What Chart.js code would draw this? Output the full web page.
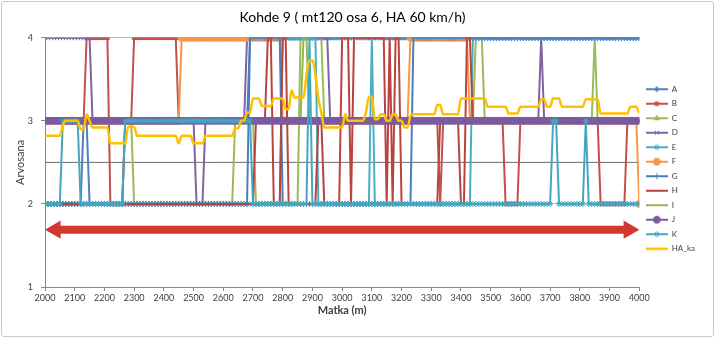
<!DOCTYPE html>
<html>
<head>
<meta charset="utf-8">
<script src="https://cdn.jsdelivr.net/npm/chart.js@4.4.1/dist/chart.umd.min.js"></script>
<style>
  html, body { margin: 0; padding: 0; background: #fff; }
  #wrap { position: relative; width: 715px; height: 338px; }
  #frame { position: absolute; left: 1px; top: 1px; width: 711px; height: 334px; border: 1px solid #c9c9c9; border-radius: 3px; pointer-events: none; }
</style>
</head>
<body>
<div id="wrap"><canvas id="kohde" width="715" height="338"></canvas><div id="frame"></div></div>
<script>
/* --------------- Distance axis (m), one reading every 10 m --------------------- */
const distance = [];
for (let x = 2000; x <= 4000; x += 10) distance.push(x);

/* --------------- Ratings per evaluator, as [from metre, grade] runs --------------------- */
const runsA = [[2000, 2], [2130, 3], [2150, 2], [2270, 3], [2690, 4]];
const runsB = [[2000, 3], [2140, 4], [2220, 2], [2270, 3], [2300, 4], [2450, 3], [3330, 2], [3340, 3], [3550, 2], [3600, 3], [3870, 2], [3960, 3]];
const runsC = [[2000, 3], [2300, 2], [2640, 3], [2710, 2], [2860, 4], [2940, 3], [3450, 4], [3480, 3], [3850, 4], [3860, 3]];
const runsD = [[2000, 4], [2160, 3], [2510, 2], [2540, 3], [2680, 4], [2960, 3], [3670, 4], [3680, 3]];
const runsE = [[2000, 2], [2800, 4], [2920, 2], [3100, 4], [3110, 2], [3440, 4]];
const runsF = [[2000, 3], [2460, 4], [2800, 3], [3230, 4], [3430, 3], [4000, 2]];
const runsG = [[2000, 2], [2690, 4], [2800, 2], [3240, 4]];
const runsH = [[2000, 2], [2710, 3], [2750, 4], [2770, 2], [2800, 4], [2820, 2], [2920, 3], [2940, 2], [3000, 4], [3030, 2], [3040, 4], [3150, 2], [3160, 4], [3170, 2], [3180, 4], [3200, 2], [3330, 3], [3400, 2], [3420, 4], [3440, 3]];
const runsI = [[2000, 3], [2870, 4], [2890, 3]];
const runsJ = [[2000, 3]];
const runsK = [[2000, 2], [2060, 3], [2120, 2], [2270, 3], [2700, 2], [2890, 4], [2900, 2], [3710, 3], [3730, 2], [3820, 3], [3830, 2]];

/* --------------- HA_ka mean grade --------------------- */
const runsHA = [
  [2000, 2.82], [2060, 2.95], [2070, 3.0], [2120, 2.9], [2140, 3.08], [2150, 3.0], [2160, 2.92],
  [2220, 2.73], [2280, 2.93], [2310, 2.82], [2450, 2.73], [2460, 2.82], [2500, 2.73], [2540, 2.82],
  [2640, 2.91], [2660, 3.0], [2680, 3.1], [2700, 3.27], [2730, 3.18], [2770, 3.27], [2810, 3.14],
  [2830, 3.37], [2840, 3.28], [2880, 3.55], [2890, 3.73], [2910, 3.55], [2920, 3.27], [2930, 3.1],
  [2940, 2.92], [3010, 3.08], [3020, 3.0], [3080, 3.1], [3090, 3.29], [3110, 3.02], [3130, 3.08],
  [3150, 3.0], [3170, 3.08], [3190, 3.0], [3210, 2.92], [3230, 3.06], [3240, 3.08], [3320, 3.19],
  [3340, 3.08], [3400, 3.27], [3490, 3.17], [3560, 3.09], [3600, 3.17], [3670, 3.26], [3690, 3.17],
  [3710, 3.27], [3740, 3.17], [3820, 3.26], [3870, 3.09], [3970, 3.17], [4000, 3.09]
];

/* --------------- Reference line and section arrow --------------------- */
const limitX = [2000, 4000];
const limitY = 2.5;
const arrowX = [2035, 3965];
const arrowY = 1.69;

const seriesNames = ["A", "B", "C", "D", "E", "F", "G", "H", "I", "J", "K"];
const seriesRuns = [runsA, runsB, runsC, runsD, runsE, runsF, runsG, runsH, runsI, runsJ, runsK];
const seriesColors = ["#4F81BD", "#C0504D", "#9BBB59", "#8064A2", "#4BACC6", "#F79646", "#4A7EBB", "#B8433F", "#93B556", "#7A5B9E", "#45A6C0"];
const seriesMarkers = ["rectRot", "rect", "triangle", "crossRot", "star", "circle", "cross", "line", "line", "circle", "star"];
const markerSize = [2.5, 2.5, 3, 3, 3, 3.5, 3, 3, 0, 3.5, 3];

const expand = (runs) => distance.map((x) => {
  let v = runs[0][1];
  for (const [x0, y0] of runs) if (x >= x0) v = y0;
  return { x: x, y: v };
});

const legendIcon = (color, style, radius, width) => {
  const c = document.createElement("canvas");
  c.width = 22; c.height = 10;
  const g = c.getContext("2d");
  g.strokeStyle = color; g.lineWidth = width;
  g.beginPath(); g.moveTo(0, 5); g.lineTo(22, 5); g.stroke();
  if (radius > 0) {
    g.fillStyle = color; g.strokeStyle = color; g.lineWidth = 1;
    Chart.helpers.drawPoint(g, { pointStyle: style, radius: radius, rotation: 0, borderWidth: 1 }, 11, 5);
  }
  return c;
};

const datasets = seriesNames.map((name, i) => ({
  label: name,
  data: expand(seriesRuns[i]),
  borderColor: seriesColors[i],
  backgroundColor: seriesColors[i],
  pointBackgroundColor: seriesColors[i],
  pointBorderColor: seriesColors[i],
  pointStyle: seriesMarkers[i],
  pointRadius: markerSize[i],
  pointBorderWidth: 1,
  borderWidth: 2,
  order: 100 - i,
  icon: legendIcon(seriesColors[i], seriesMarkers[i], markerSize[i], 2),
}));

datasets.push({
  label: "HA_ka",
  data: expand(runsHA),
  borderColor: "#FFC000",
  backgroundColor: "#FFC000",
  borderWidth: 2.5,
  pointRadius: 0,
  cubicInterpolationMode: "monotone",
  order: 50,
  icon: legendIcon("#FFC000", "line", 0, 2.5),
});

datasets.push({
  label: "raja",
  data: limitX.map((x) => ({ x: x, y: limitY })),
  borderColor: "#6b6b6b",
  borderWidth: 1,
  pointRadius: 0,
  order: 200,
  noLegend: true,
});

datasets.push({
  label: "osuus",
  data: arrowX.map((x) => ({ x: x, y: arrowY })),
  borderColor: "#D2392E",
  backgroundColor: "#D2392E",
  borderWidth: 8,
  pointStyle: "triangle",
  pointRadius: 10.5,
  pointBorderWidth: 0,
  pointBackgroundColor: "#D2392E",
  pointRotation: (ctx) => (ctx.dataIndex === 0 ? 270 : 90),
  order: 40,
  noLegend: true,
});

Chart.defaults.font.family = "Lato, 'Open Sans', sans-serif";
Chart.defaults.color = "#404040";

new Chart(document.getElementById("kohde"), {
  type: "line",
  data: { datasets: datasets },
  options: {
    responsive: false,
    animation: false,
    events: [],
    layout: { padding: { left: 0, right: 10, top: 0, bottom: 0 } },
    plugins: {
      title: {
        display: true,
        text: "Kohde 9 ( mt120 osa 6, HA 60 km/h)",
        color: "#000",
        font: { size: 14, weight: "normal" },
        padding: { top: 9, bottom: 12 },
      },
      tooltip: { enabled: false },
      legend: {
        position: "right",
        labels: {
          usePointStyle: true,
          pointStyleWidth: 22,
          padding: 6.5,
          font: { size: 8 },
          color: "#404040",
          filter: (item, data) => !data.datasets[item.datasetIndex].noLegend,
          generateLabels: (chart) => chart.data.datasets.map((ds, i) => ({
            text: ds.label,
            pointStyle: ds.icon,
            datasetIndex: i,
            hidden: false,
            lineWidth: 0,
            fillStyle: "transparent",
            strokeStyle: "transparent",
            fontColor: "#404040",
          })),
        },
      },
    },
    scales: {
      x: {
        type: "linear",
        min: 2000,
        max: 4000,
        ticks: { stepSize: 100, font: { size: 9 }, padding: 2, maxRotation: 0, callback: (v) => String(v) },
        grid: { drawOnChartArea: false, tickLength: 4, tickColor: "#868686" },
        border: { color: "#868686" },
        title: { display: true, text: "Matka (m)", font: { size: 11, weight: "bold" }, padding: { top: 0, bottom: 21 } },
        afterFit: (scale) => { scale.height = 51; },
      },
      y: {
        min: 1,
        max: 4,
        ticks: { stepSize: 1, font: { size: 9 }, padding: 8 },
        grid: { color: "#b5b5b5", tickLength: 4, tickColor: "#868686" },
        border: { color: "#868686" },
        title: { display: true, text: "Arvosana", font: { size: 11 }, padding: { top: 14, bottom: 0 } },
        afterFit: (scale) => { scale.width = 45; },
      },
    },
  },
});
</script>
</body>
</html>
